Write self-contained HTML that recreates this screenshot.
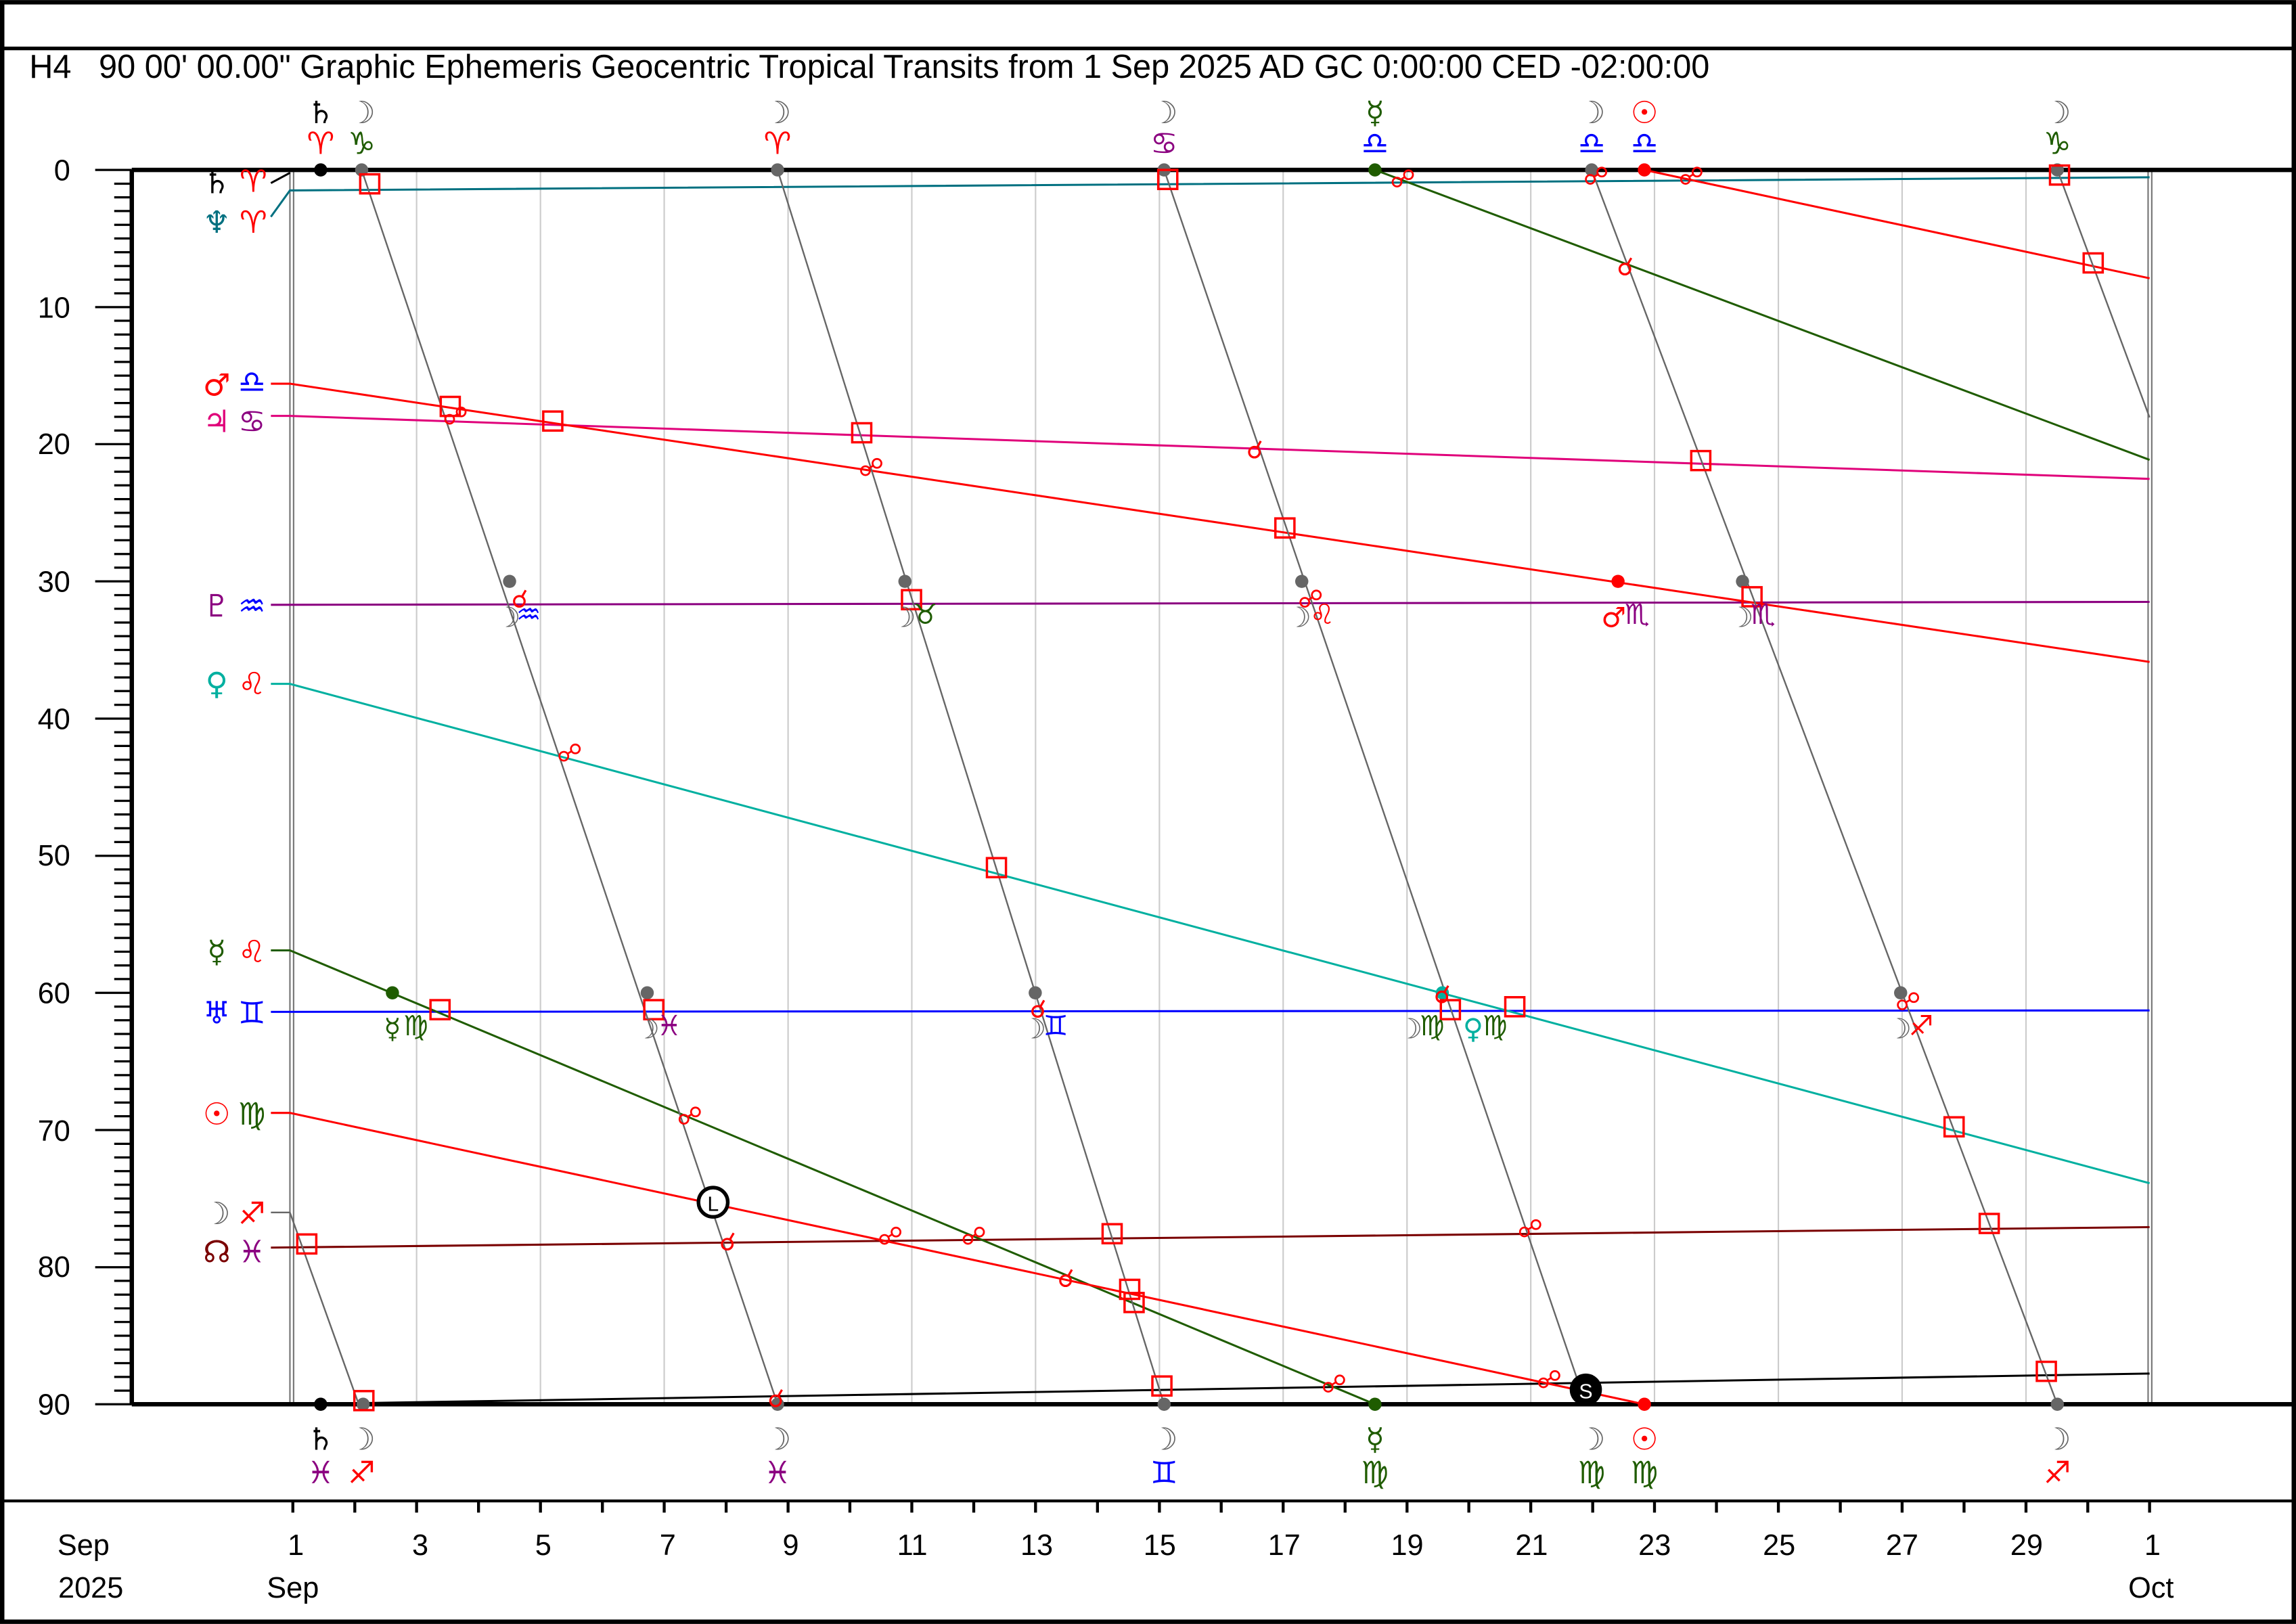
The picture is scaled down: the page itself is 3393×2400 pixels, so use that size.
<!DOCTYPE html>
<html><head><meta charset="utf-8"><style>
html,body{margin:0;padding:0;background:#fff}
svg{display:block}
text{font-family:"Liberation Sans",sans-serif}
.g text{font-family:"DejaVu Sans","DejaVu Sans Mono",sans-serif}
</style></head><body>
<svg width="3393" height="2400" viewBox="0 0 1568 1109" xmlns="http://www.w3.org/2000/svg">
<rect x="0" y="0" width="1568" height="1109" fill="#fff"/>
<rect x="1.5" y="1.5" width="1565" height="1106" fill="none" stroke="#000" stroke-width="3"/>
<line x1="0" y1="33" x2="1568" y2="33" stroke="#000" stroke-width="2.5"/>
<text x="20" y="53" font-size="22.5">H4&#160;&#160; 90 00' 00.00" Graphic Ephemeris Geocentric Tropical Transits from 1 Sep 2025 AD GC 0:00:00 CED -02:00:00</text>
<line x1="0" y1="1025" x2="1568" y2="1025" stroke="#000" stroke-width="2"/>

<!-- grid -->
<g stroke="#ccc" stroke-width="1">
<line x1="284.5" y1="116" x2="284.5" y2="959"/><line x1="369.1" y1="116" x2="369.1" y2="959"/><line x1="453.6" y1="116" x2="453.6" y2="959"/><line x1="538.2" y1="116" x2="538.2" y2="959"/><line x1="622.7" y1="116" x2="622.7" y2="959"/><line x1="707.2" y1="116" x2="707.2" y2="959"/><line x1="791.8" y1="116" x2="791.8" y2="959"/><line x1="876.3" y1="116" x2="876.3" y2="959"/><line x1="960.9" y1="116" x2="960.9" y2="959"/><line x1="1045.4" y1="116" x2="1045.4" y2="959"/><line x1="1129.9" y1="116" x2="1129.9" y2="959"/><line x1="1214.5" y1="116" x2="1214.5" y2="959"/><line x1="1299" y1="116" x2="1299" y2="959"/><line x1="1383.6" y1="116" x2="1383.6" y2="959"/>
</g>
<g stroke="#777" stroke-width="1"><line x1="198" y1="116" x2="198" y2="959"/><line x1="200.5" y1="116" x2="200.5" y2="959"/><line x1="1467" y1="116" x2="1467" y2="959"/><line x1="1469.5" y1="116" x2="1469.5" y2="959"/></g>

<!-- frame -->
<line x1="90" y1="116" x2="1568" y2="116" stroke="#000" stroke-width="3"/>
<line x1="90" y1="959" x2="1568" y2="959" stroke="#000" stroke-width="3"/>
<line x1="90" y1="116" x2="90" y2="959" stroke="#000" stroke-width="3"/>
<!-- y ticks -->
<g stroke="#000" stroke-width="1.5">
<path d="M65 116H90M65 209.7H90M65 303.3H90M65 397H90M65 490.7H90M65 584.4H90M65 678H90M65 771.7H90M65 865.4H90M65 959H90"/>
<path d="M78 125.4H90M78 134.7H90M78 144.1H90M78 153.5H90M78 162.8H90M78 172.2H90M78 181.6H90M78 190.9H90M78 200.3H90
M78 219H90M78 228.4H90M78 237.8H90M78 247.1H90M78 256.5H90M78 265.9H90M78 275.2H90M78 284.6H90M78 294H90
M78 312.7H90M78 322.1H90M78 331.4H90M78 340.8H90M78 350.2H90M78 359.5H90M78 368.9H90M78 378.3H90M78 387.6H90
M78 406.4H90M78 415.7H90M78 425.1H90M78 434.4H90M78 443.8H90M78 453.2H90M78 462.6H90M78 471.9H90M78 481.3H90
M78 500H90M78 509.4H90M78 518.8H90M78 528.1H90M78 537.5H90M78 546.9H90M78 556.2H90M78 565.6H90M78 575H90
M78 593.7H90M78 603.1H90M78 612.4H90M78 621.8H90M78 631.2H90M78 640.5H90M78 649.9H90M78 659.3H90M78 668.6H90
M78 687.4H90M78 696.7H90M78 706.1H90M78 715.5H90M78 724.8H90M78 734.2H90M78 743.6H90M78 752.9H90M78 762.3H90
M78 781.1H90M78 790.4H90M78 799.8H90M78 809.1H90M78 818.5H90M78 827.9H90M78 837.2H90M78 846.6H90M78 856H90
M78 874.7H90M78 884.1H90M78 893.5H90M78 902.8H90M78 912.2H90M78 921.6H90M78 930.9H90M78 940.3H90M78 949.7H90"/>
</g>
<g font-size="20" text-anchor="end">
<text x="48" y="123">0</text><text x="48" y="217">10</text><text x="48" y="310">20</text><text x="48" y="404">30</text><text x="48" y="498">40</text><text x="48" y="591">50</text><text x="48" y="685">60</text><text x="48" y="779">70</text><text x="48" y="872">80</text><text x="48" y="966">90</text>
</g>
<!-- x ticks -->
<path stroke="#000" stroke-width="2" d="M200 1025v8M242.3 1025v8M284.5 1025v8M326.8 1025v8M369.1 1025v8M411.4 1025v8M453.6 1025v8M495.9 1025v8M538.2 1025v8M580.4 1025v8M622.7 1025v8M665 1025v8M707.2 1025v8M749.5 1025v8M791.8 1025v8M834 1025v8M876.3 1025v8M918.6 1025v8M960.9 1025v8M1003.1 1025v8M1045.4 1025v8M1087.7 1025v8M1129.9 1025v8M1172.2 1025v8M1214.5 1025v8M1256.8 1025v8M1299 1025v8M1341.3 1025v8M1383.6 1025v8M1425.8 1025v8M1468 1025v8"/>
<g font-size="20" text-anchor="middle">
<text x="57" y="1062">Sep</text><text x="62" y="1091">2025</text>
<text x="202" y="1062">1</text><text x="200" y="1091">Sep</text>
<text x="287" y="1062">3</text><text x="371" y="1062">5</text><text x="456" y="1062">7</text><text x="540" y="1062">9</text><text x="623" y="1062">11</text><text x="708" y="1062">13</text><text x="792" y="1062">15</text><text x="877" y="1062">17</text><text x="961" y="1062">19</text><text x="1046" y="1062">21</text><text x="1130" y="1062">23</text><text x="1215" y="1062">25</text><text x="1299" y="1062">27</text><text x="1384" y="1062">29</text><text x="1470" y="1062">1</text><text x="1469" y="1091">Oct</text>
</g>

<!-- series -->
<g fill="none" stroke-width="1.4">
<polyline stroke="#007080" points="185,148 198,130 1468,121"/>
<polyline stroke="#000" points="185,125 198,118"/>
<polyline stroke="#000" points="200,959 1468,938"/>
<polyline stroke="#00f" points="185,691 1468,690"/>
<polyline stroke="#8b0080" points="185,413 1468,411"/>
<polyline stroke="#e0007a" points="185,284 198,284 1468,327"/>
<polyline stroke="#f00" points="185,262 198,262 1468,452"/>
<polyline stroke="#00b0a0" points="185,467 198,467 1468,808"/>
<polyline stroke="#7a0000" points="185,852 1468,838"/>
<polyline stroke="#1f5c00" points="185,649 198,649 939,959"/>
<polyline stroke="#1f5c00" points="939,116 1468,314"/>
<polyline stroke="#f00" points="185,760 198,760 1123,959"/>
<polyline stroke="#f00" points="1123,116 1468,190"/>
</g>
<g fill="none" stroke="#666" stroke-width="1.1">
<polyline points="185,828 198,828 245,959"/>
<line x1="247" y1="116" x2="531" y2="959"/>
<line x1="531" y1="116" x2="795" y2="959"/>
<line x1="795" y1="116" x2="1083" y2="959"/>
<line x1="1087" y1="116" x2="1405" y2="959"/>
<line x1="1405" y1="116" x2="1468" y2="285"/>
</g>

<!-- dots -->
<g>
<circle cx="219" cy="116" r="4.5" fill="#000"/><circle cx="219" cy="959" r="4.5" fill="#000"/>
<g fill="#666"><circle cx="247" cy="116" r="4.5"/><circle cx="531" cy="116" r="4.5"/><circle cx="795" cy="116" r="4.5"/><circle cx="1087" cy="116" r="4.5"/><circle cx="1405" cy="116" r="4.5"/>
<circle cx="248" cy="959" r="4.5"/><circle cx="531" cy="959" r="4.5"/><circle cx="795" cy="959" r="4.5"/><circle cx="1405" cy="959" r="4.5"/>
<circle cx="348" cy="397" r="4.5"/><circle cx="618" cy="397" r="4.5"/><circle cx="889" cy="397" r="4.5"/><circle cx="1190" cy="397" r="4.5"/>
<circle cx="442" cy="678" r="4.5"/><circle cx="707" cy="678" r="4.5"/><circle cx="1298" cy="678" r="4.5"/></g>
<circle cx="1123" cy="116" r="4.5" fill="#f00"/><circle cx="1123" cy="959" r="4.5" fill="#f00"/><circle cx="1105" cy="397" r="4.5" fill="#f00"/>
<circle cx="939" cy="116" r="4.5" fill="#1f5c00"/><circle cx="939" cy="959" r="4.5" fill="#1f5c00"/><circle cx="268" cy="678" r="4.5" fill="#1f5c00"/>
<circle cx="985" cy="678" r="4.5" fill="#00b0a0"/>
</g>

<!-- squares -->
<g fill="none" stroke="#f00" stroke-width="1.6">
<rect x="246" y="119" width="13" height="13"/><rect x="301" y="271" width="13" height="13"/><rect x="371" y="281" width="13" height="13"/><rect x="582" y="289" width="13" height="13"/><rect x="791" y="116" width="13" height="13"/><rect x="871" y="354" width="13" height="13"/><rect x="1155" y="308" width="13" height="13"/><rect x="1423" y="173" width="13" height="13"/><rect x="1400" y="113" width="13" height="13"/><rect x="674" y="586" width="13" height="13"/><rect x="294" y="683" width="13" height="13"/><rect x="440" y="683" width="13" height="13"/><rect x="1028" y="681" width="13" height="13"/><rect x="1328" y="763" width="13" height="13"/><rect x="1352" y="829" width="13" height="13"/><rect x="753" y="836" width="13" height="13"/><rect x="203" y="843" width="13" height="13"/><rect x="765" y="874" width="13" height="13"/><rect x="768" y="883" width="13" height="13"/><rect x="787" y="940" width="13" height="13"/><rect x="242" y="950" width="13" height="13"/><rect x="1391" y="930" width="13" height="13"/><rect x="616" y="403" width="13" height="13"/><rect x="1190" y="401" width="13" height="13"/><rect x="984" y="683" width="13" height="13"/>
</g>

<!-- aspect glyphs -->
<g class="g" fill="#f00" font-size="17" text-anchor="middle">
<text x="311" y="290">☍&#xFE0E;</text><text x="595" y="325">☍&#xFE0E;</text><text x="389" y="520">☍&#xFE0E;</text><text x="471" y="768">☍&#xFE0E;</text><text x="608" y="850">☍&#xFE0E;</text><text x="665" y="850">☍&#xFE0E;</text><text x="1045" y="845">☍&#xFE0E;</text><text x="911" y="951">☍&#xFE0E;</text><text x="1058" y="948">☍&#xFE0E;</text><text x="958" y="128">☍&#xFE0E;</text><text x="1090" y="126">☍&#xFE0E;</text><text x="1155" y="126">☍&#xFE0E;</text><text x="1303" y="690">☍&#xFE0E;</text><text x="895" y="415">☍&#xFE0E;</text>
<text x="857" y="313">☌&#xFE0E;</text><text x="1110" y="188">☌&#xFE0E;</text><text x="497" y="854">☌&#xFE0E;</text><text x="728" y="879">☌&#xFE0E;</text><text x="530" y="961">☌&#xFE0E;</text><text x="985" y="685">☌&#xFE0E;</text><text x="709" y="695">☌&#xFE0E;</text><text x="355" y="415">☌&#xFE0E;</text>
</g>

<!-- L and S -->
<circle cx="487" cy="821" r="10" fill="#fff" stroke="#000" stroke-width="2.5"/><text x="487" y="827" font-size="14" text-anchor="middle">L</text>
<circle cx="1083" cy="949" r="11" fill="#000"/><text x="1083" y="955" font-size="14" fill="#fff" text-anchor="middle">S</text>

<!-- left labels -->
<g class="g" font-size="21" text-anchor="middle">
<text x="148" y="132">♄&#xFE0E;</text><text x="173" y="131" fill="#f00">♈&#xFE0E;</text>
<text x="148" y="159" fill="#007080">♆&#xFE0E;</text><text x="173" y="159" fill="#f00">♈&#xFE0E;</text>
<text x="148" y="270" fill="#f00">♂&#xFE0E;</text><text x="172" y="268" fill="#00f">♎&#xFE0E;</text>
<text x="148" y="295" fill="#e0007a">♃&#xFE0E;</text><text x="172" y="295" fill="#8b0080">♋&#xFE0E;</text>
<text x="148" y="421" fill="#8b0080">♇&#xFE0E;</text><text x="172" y="421" fill="#00f">♒&#xFE0E;</text>
<text x="148" y="474" fill="#00b0a0">♀&#xFE0E;</text><text x="172" y="474" fill="#f00">♌&#xFE0E;</text>
<text x="148" y="657" fill="#1f5c00">☿&#xFE0E;</text><text x="172" y="657" fill="#f00">♌&#xFE0E;</text>
<text x="148" y="699" fill="#00f">♅&#xFE0E;</text><text x="172" y="699" fill="#00f">♊&#xFE0E;</text>
<text x="148" y="768" fill="#f00">☉&#xFE0E;</text><text x="172" y="768" fill="#1f5c00">♍&#xFE0E;</text>
<text x="148" y="836" fill="#666">☽&#xFE0E;</text><text x="172" y="836" fill="#f00">♐&#xFE0E;</text>
<text x="148" y="862" fill="#7a0000">☊&#xFE0E;</text><text x="172" y="862" fill="#8b0080">♓&#xFE0E;</text>
</g>

<!-- top labels -->
<g class="g" font-size="21" text-anchor="middle">
<text x="219" y="84">♄&#xFE0E;</text><text x="219" y="105" fill="#f00">♈&#xFE0E;</text>
<text x="247" y="84" fill="#666">☽&#xFE0E;</text><text x="247" y="105" fill="#1f5c00">♑&#xFE0E;</text>
<text x="531" y="84" fill="#666">☽&#xFE0E;</text><text x="531" y="105" fill="#f00">♈&#xFE0E;</text>
<text x="795" y="84" fill="#666">☽&#xFE0E;</text><text x="795" y="105" fill="#8b0080">♋&#xFE0E;</text>
<text x="939" y="84" fill="#1f5c00">☿&#xFE0E;</text><text x="939" y="105" fill="#00f">♎&#xFE0E;</text>
<text x="1087" y="84" fill="#666">☽&#xFE0E;</text><text x="1087" y="105" fill="#00f">♎&#xFE0E;</text>
<text x="1123" y="84" fill="#f00">☉&#xFE0E;</text><text x="1123" y="105" fill="#00f">♎&#xFE0E;</text>
<text x="1405" y="84" fill="#666">☽&#xFE0E;</text><text x="1405" y="105" fill="#1f5c00">♑&#xFE0E;</text>
</g>
<!-- bottom labels -->
<g class="g" font-size="21" text-anchor="middle">
<text x="219" y="990">♄&#xFE0E;</text><text x="219" y="1013" fill="#8b0080">♓&#xFE0E;</text>
<text x="247" y="990" fill="#666">☽&#xFE0E;</text><text x="247" y="1013" fill="#f00">♐&#xFE0E;</text>
<text x="531" y="990" fill="#666">☽&#xFE0E;</text><text x="531" y="1013" fill="#8b0080">♓&#xFE0E;</text>
<text x="795" y="990" fill="#666">☽&#xFE0E;</text><text x="795" y="1013" fill="#00f">♊&#xFE0E;</text>
<text x="939" y="990" fill="#1f5c00">☿&#xFE0E;</text><text x="939" y="1013" fill="#1f5c00">♍&#xFE0E;</text>
<text x="1087" y="990" fill="#666">☽&#xFE0E;</text><text x="1087" y="1013" fill="#1f5c00">♍&#xFE0E;</text>
<text x="1123" y="990" fill="#f00">☉&#xFE0E;</text><text x="1123" y="1013" fill="#1f5c00">♍&#xFE0E;</text>
<text x="1405" y="990" fill="#666">☽&#xFE0E;</text><text x="1405" y="1013" fill="#f00">♐&#xFE0E;</text>
</g>
<!-- in-chart labels -->
<g class="g" font-size="19" text-anchor="middle">
<text x="347" y="428" fill="#666">☽&#xFE0E;</text><text x="361" y="426" fill="#00f">♒&#xFE0E;</text>
<text x="617" y="428" fill="#666">☽&#xFE0E;</text><text x="632" y="426" fill="#1f5c00">♉&#xFE0E;</text>
<text x="887" y="428" fill="#666">☽&#xFE0E;</text><text x="903" y="426" fill="#f00">♌&#xFE0E;</text>
<text x="1189" y="428" fill="#666">☽&#xFE0E;</text><text x="1204" y="426" fill="#8b0080">♏&#xFE0E;</text>
<text x="1102" y="428" fill="#f00">♂&#xFE0E;</text><text x="1118" y="426" fill="#8b0080">♏&#xFE0E;</text>
<text x="268" y="709" fill="#1f5c00">☿&#xFE0E;</text><text x="284" y="707" fill="#1f5c00">♍&#xFE0E;</text>
<text x="442" y="709" fill="#666">☽&#xFE0E;</text><text x="457" y="707" fill="#8b0080">♓&#xFE0E;</text>
<text x="706" y="709" fill="#666">☽&#xFE0E;</text><text x="721" y="707" fill="#00f">♊&#xFE0E;</text>
<text x="963" y="709" fill="#666">☽&#xFE0E;</text><text x="978" y="707" fill="#1f5c00">♍&#xFE0E;</text>
<text x="1006" y="709" fill="#00b0a0">♀&#xFE0E;</text><text x="1021" y="707" fill="#1f5c00">♍&#xFE0E;</text>
<text x="1297" y="709" fill="#666">☽&#xFE0E;</text><text x="1312" y="707" fill="#f00">♐&#xFE0E;</text>
</g>
</svg>
</body></html>
